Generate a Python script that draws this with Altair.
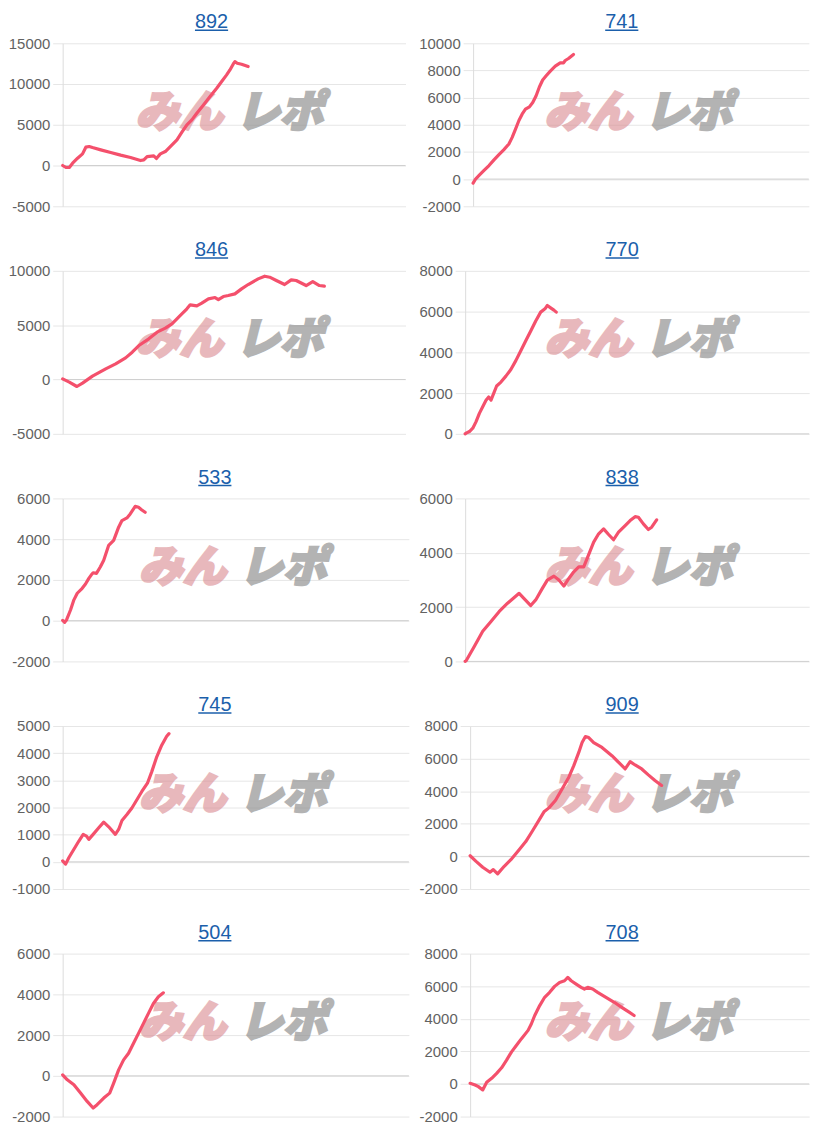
import altair as alt
import pandas as pd

titles = ["892", "741", "846", "770", "533", "838", "745", "909", "504", "708"]

# y-axis ranges (min, max, step) per panel
y_ranges = [(-5000, 15000, 5000), (-2000, 10000, 2000), (-5000, 10000, 5000), (0, 8000, 2000),
            (-2000, 6000, 2000), (0, 6000, 2000), (-1000, 5000, 1000), (-2000, 8000, 2000),
            (-2000, 6000, 2000), (-2000, 8000, 2000)]

p1_games = [0, 83, 167, 250, 375, 500, 583, 667, 750, 958, 1208, 1458, 1708, 1958, 2042, 2125, 2292, 2358, 2458,
            2583, 2708, 2875, 3000, 3125, 3250, 3375, 3542, 3708, 3875, 4000, 4125, 4208, 4292, 4333, 4392, 4500, 4667]
p1_diff = [0, -245, -245, 286, 900, 1430, 2250, 2330, 2200, 1920, 1590, 1270, 980, 610, 690, 1100, 1185, 860, 1430,
           1715, 2330, 3147, 4087, 4986, 5600, 6417, 7438, 8460, 9482, 10300, 11117, 11730, 12465, 12751, 12547,
           12424, 12138]

p2_games = [0, 67, 150, 275, 400, 525, 650, 775, 900, 983, 1067, 1150, 1233, 1317, 1417, 1500, 1583, 1667, 1750,
            1833, 1942, 2067, 2192, 2275, 2317, 2400, 2525]
p2_diff = [-293, 24, 268, 634, 1000, 1415, 1805, 2170, 2585, 3073, 3683, 4293, 4780, 5146, 5317, 5634, 6122, 6780,
           7293, 7585, 7951, 8317, 8561, 8561, 8732, 8878, 9171]

p3_games = [0, 167, 358, 500, 750, 1083, 1333, 1583, 1750, 1917, 2167, 2375, 2583, 2750, 2917, 3125, 3208, 3375,
            3500, 3667, 3833, 3917, 4042, 4167, 4333, 4500, 4667, 4917, 5083, 5208, 5375, 5583, 5750, 5875, 6125,
            6292, 6458, 6583]
p3_diff = [61, -245, -644, -337, 307, 981, 1441, 1994, 2515, 3128, 3742, 4355, 4723, 5122, 5735, 6502, 6870, 6778,
           7023, 7422, 7545, 7361, 7637, 7729, 7882, 8342, 8741, 9262, 9507, 9416, 9109, 8741, 9170, 9109, 8649,
           9017, 8649, 8588]

p4_games = [0, 25, 108, 192, 275, 358, 442, 525, 592, 650, 733, 792, 900, 1025, 1150, 1275, 1400, 1525, 1650, 1775,
            1900, 2008, 2067, 2150, 2233, 2292]
p4_diff = [0, 32, 113, 275, 599, 1004, 1328, 1651, 1813, 1651, 2056, 2348, 2542, 2833, 3157, 3594, 4080, 4566, 5051,
           5537, 5974, 6136, 6298, 6184, 6071, 5974]

p5_games = [0, 50, 100, 200, 283, 367, 492, 575, 658, 717, 767, 850, 950, 1033, 1158, 1283, 1408, 1492, 1617, 1700,
            1825, 1908, 1992, 2075]
p5_diff = [16, -81, 49, 535, 1022, 1346, 1590, 1800, 2076, 2238, 2352, 2319, 2644, 2968, 3698, 3941, 4590, 4915,
           5044, 5239, 5612, 5563, 5434, 5320]

p6_games = [0, 25, 233, 442, 650, 858, 1067, 1358, 1650, 1775, 1942, 2067, 2233, 2358, 2483, 2608, 2733, 2858, 2983,
            3067, 3233, 3358, 3483, 3608, 3733, 3858, 4025, 4150, 4275, 4358, 4483, 4608, 4692, 4817]
p6_diff = [0, 24, 560, 1107, 1473, 1838, 2142, 2507, 2057, 2264, 2690, 2994, 3140, 2994, 2775, 3055, 3298, 3481,
           3481, 3785, 4393, 4698, 4880, 4673, 4479, 4758, 5002, 5184, 5330, 5306, 5063, 4856, 4941, 5209]

p7_games = [0, 75, 158, 283, 408, 517, 600, 658, 767, 908, 1033, 1158, 1325, 1408, 1492, 1617, 1742, 1867, 1992,
            2133, 2242, 2367, 2492, 2617, 2675]
p7_diff = [36, -85, 158, 462, 766, 1010, 949, 827, 1010, 1253, 1460, 1290, 1010, 1192, 1521, 1740, 1983, 2287, 2591,
           2895, 3321, 3868, 4294, 4623, 4720]

p8_games = [0, 150, 317, 500, 583, 692, 858, 1025, 1233, 1400, 1567, 1733, 1858, 1983, 2150, 2317, 2483, 2608, 2733,
            2817, 2900, 2983, 3108, 3317, 3567, 3775, 3900, 4025, 4150, 4317, 4483, 4650, 4817]
p8_diff = [40, -304, -668, -972, -810, -1073, -608, -203, 405, 911, 1559, 2228, 2734, 2977, 3443, 4151, 4860, 5569,
           6379, 6986, 7351, 7290, 6986, 6683, 6176, 5670, 5366, 5812, 5609, 5366, 5002, 4658, 4354]

p9_games = [0, 117, 283, 450, 617, 767, 867, 1033, 1183, 1283, 1408, 1533, 1658, 1783, 1908, 2033, 2158, 2283, 2408,
            2533]
p9_diff = [49, -196, -440, -848, -1255, -1581, -1418, -1092, -848, -359, 293, 782, 1108, 1597, 2086, 2575, 3064,
           3553, 3879, 4075]

p10_games = [0, 125, 208, 317, 417, 542, 667, 792, 917, 1042, 1167, 1292, 1458, 1542, 1625, 1750, 1875, 2000, 2125,
             2250, 2375, 2458, 2542, 2667, 2792, 2875, 2958, 3083, 3208, 3417, 3625, 3833, 4000, 4125]
p10_diff = [41, -61, -162, -365, 102, 345, 650, 995, 1462, 1969, 2375, 2781, 3289, 3695, 4202, 4811, 5319, 5623,
            5989, 6232, 6334, 6537, 6334, 6131, 5928, 5826, 5928, 5826, 5623, 5319, 5014, 4669, 4405, 4202]

series = [(p1_games, p1_diff), (p2_games, p2_diff), (p3_games, p3_diff), (p4_games, p4_diff), (p5_games, p5_diff),
          (p6_games, p6_diff), (p7_games, p7_diff), (p8_games, p8_diff), (p9_games, p9_diff), (p10_games, p10_diff)]

wm_left = ["みん"]
wm_right = ["レポ"]

# ---- styling / layout ----
FONT = "Liberation Sans"
LFS = 15
GPP = 25          # games per pixel on the x scale
LEFT_TOTAL = 399.7   # axis + plot width, left column
RIGHT_TOTAL = 392.5  # axis + plot width, right column
H = 164
COLSP = 9
ROWSP = 26
LINE = "#f4506c"
BLUE = "#1b5fab"
TITLE_CX = [212.5, 621.0]
PINK_CX = [180.0, 587.0]
GRAY_CX = [281.0, 688.0]


def lw(s):
    return sum(0.556 * LFS if ch.isdigit() else 0.333 * LFS for ch in s)


def axw(lo, hi, st):
    return max(lw(str(v)) for v in range(lo, hi + 1, st)) + 13


axws = [axw(*r) for r in y_ranges]
col_x0 = [8, 8 + LEFT_TOTAL + COLSP]
col_total = [LEFT_TOTAL, RIGHT_TOTAL]

charts = []
for i in range(10):
    col = i % 2
    W = col_total[col] - axws[i]
    lo, hi, st = y_ranges[i]
    ticks = list(range(lo, hi + 1, st))
    pl = col_x0[col] + axws[i]
    games, diff = series[i]
    df = pd.DataFrame({"game": games, "diff": diff})

    yaxis = alt.Axis(values=ticks, title=None, labelExpr="'' + datum.value", labelFont=FONT,
                     labelFontSize=LFS, labelColor="#626262", gridColor="#e6e6e6", tickColor="#e6e6e6",
                     tickSize=10, labelPadding=3, domainColor="#dcdcdc", labelOverlap=False)
    yscale = alt.Scale(domain=[lo, hi], nice=False, zero=False)
    xenc = alt.X("game:Q", scale=alt.Scale(domain=[0, W * GPP], nice=False), axis=None)

    zero = alt.Chart(pd.DataFrame({"diff": [0]})).mark_rule(color="#d0d0d0", strokeWidth=1).encode(
        y=alt.Y("diff:Q", scale=yscale, axis=yaxis))

    wm1 = alt.Chart(pd.DataFrame({"t": wm_left})).mark_text(
        font="Noto Sans CJK JP", fontSize=44, fontWeight=900, fontStyle="italic",
        color="#d98a90", stroke="#d98a90", strokeWidth=2.5, opacity=0.6,
        align="center", baseline="middle").encode(
        text="t:N", x=alt.value(PINK_CX[col] - pl), y=alt.value(71))
    wm2 = alt.Chart(pd.DataFrame({"t": wm_right})).mark_text(
        font="Noto Sans CJK JP", fontSize=44, fontWeight=900, fontStyle="italic",
        color="#8c8c8c", stroke="#8c8c8c", strokeWidth=2.5, opacity=0.65,
        align="center", baseline="middle").encode(
        text="t:N", x=alt.value(GRAY_CX[col] - pl), y=alt.value(71))

    line = alt.Chart(df).mark_line(color=LINE, strokeWidth=3.2, strokeJoin="round", strokeCap="round").encode(
        x=xenc, y=alt.Y("diff:Q", scale=yscale, axis=yaxis))

    tdf = pd.DataFrame({"t": [titles[i]]})
    tx = TITLE_CX[col] - pl
    tw = lw(titles[i]) * 20 / LFS
    title = alt.Chart(tdf).mark_text(font=FONT, fontSize=20, color=BLUE, align="center",
                                     baseline="alphabetic").encode(
        text="t:N", x=alt.value(tx), y=alt.value(-15))
    uline = alt.Chart(tdf).mark_rule(color=BLUE, strokeWidth=1.5).encode(
        x=alt.value(tx - tw / 2), x2=alt.value(tx + tw / 2), y=alt.value(-13))

    charts.append(alt.layer(zero, wm1, wm2, line, title, uline).properties(width=W, height=H))

chart = alt.concat(*charts, columns=2, spacing={"row": ROWSP, "column": COLSP}, align="none").properties(
    padding={"top": 1, "left": 0, "right": 0, "bottom": 0}
).configure_view(stroke=None)

chart.save("out.html", embed_options={"renderer": "svg", "actions": False})
